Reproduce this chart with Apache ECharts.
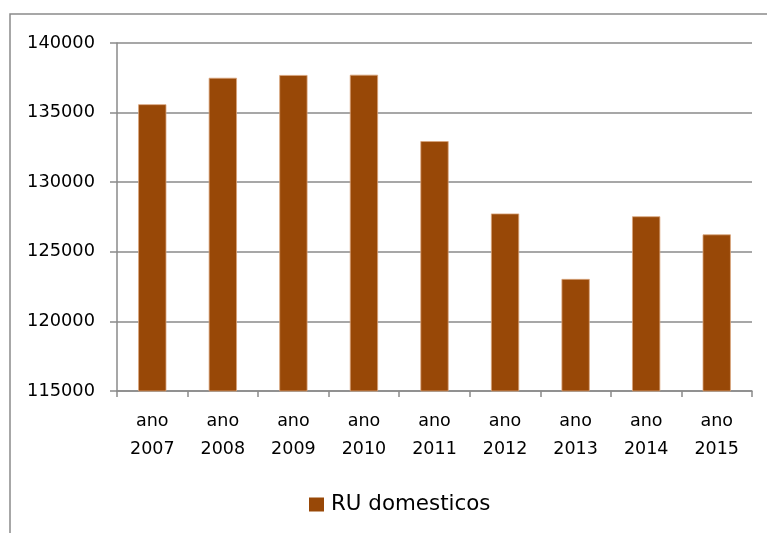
<!DOCTYPE html>
<html>
<head>
<meta charset="utf-8">
<title>RU domesticos</title>
<script src="https://cdn.jsdelivr.net/npm/echarts@6/dist/echarts.min.js"></script>
<style>
  html, body { margin: 0; padding: 0; background: #ffffff; }
  #chart { width: 767px; height: 533px; }
</style>
</head>
<body>
<div id="chart"></div>
<script>
// Annual domestic urban waste (RU domesticos), 2007–2015
const years = ['ano\n2007', 'ano\n2008', 'ano\n2009', 'ano\n2010', 'ano\n2011',
               'ano\n2012', 'ano\n2013', 'ano\n2014', 'ano\n2015'];
const ruDomesticos = [135600, 137500, 137700, 137720, 132950, 127750, 123050, 127550, 126250];
const seriesName = 'RU domesticos';
const yMin = 115000;
const yMax = 140000;
const yStep = 5000;

const gridColor = '#8a8a8a';
const barColor = '#984807';
const labelFont = 'DejaVu Sans';
const textColor = '#000';

const chart = echarts.init(document.getElementById('chart'), null, { renderer: 'canvas' });

chart.setOption({
  backgroundColor: '#ffffff',
  animation: false,
  graphic: [{
    type: 'rect',
    shape: { x: 10, y: 14, width: 900, height: 700 },
    style: { fill: 'none', stroke: '#8a8a8a', lineWidth: 1.5 },
    silent: true
  }],
  grid: { left: 117, right: 15, top: 43, bottom: 142, containLabel: false },
  legend: {
    data: [seriesName],
    left: 304,
    top: 489,
    itemWidth: 15,
    itemHeight: 14,
    icon: 'rect',
    itemStyle: { borderWidth: 0 },
    textStyle: { fontFamily: labelFont, fontSize: 21.4, color: textColor, padding: [0, 0, 0, 2] }
  },
  xAxis: {
    type: 'category',
    data: years,
    boundaryGap: true,
    axisLine: { show: true, lineStyle: { color: gridColor, width: 1.5 } },
    axisTick: { show: true, length: 6, alignWithLabel: false, lineStyle: { color: gridColor, width: 1.5 } },
    axisLabel: {
      fontFamily: labelFont,
      fontSize: 17.5,
      color: textColor,
      lineHeight: 28,
      margin: 16,
      interval: 0
    },
    splitLine: { show: false }
  },
  yAxis: {
    type: 'value',
    min: yMin,
    max: yMax,
    interval: yStep,
    axisLine: { show: true, lineStyle: { color: gridColor, width: 1.5 } },
    axisTick: { show: true, length: 7, lineStyle: { color: gridColor, width: 1.5 } },
    axisLabel: {
      fontFamily: labelFont,
      fontSize: 17.8,
      color: textColor,
      margin: 22,
      formatter: (v) => String(v)
    },
    splitLine: { show: true, lineStyle: { color: gridColor, width: 1.5 } }
  },
  series: [{
    name: seriesName,
    type: 'bar',
    data: ruDomesticos,
    barWidth: '40%',
    itemStyle: { color: barColor, borderColor: '#d9a47c', borderWidth: 0.8 }
  }]
});
</script>
</body>
</html>
